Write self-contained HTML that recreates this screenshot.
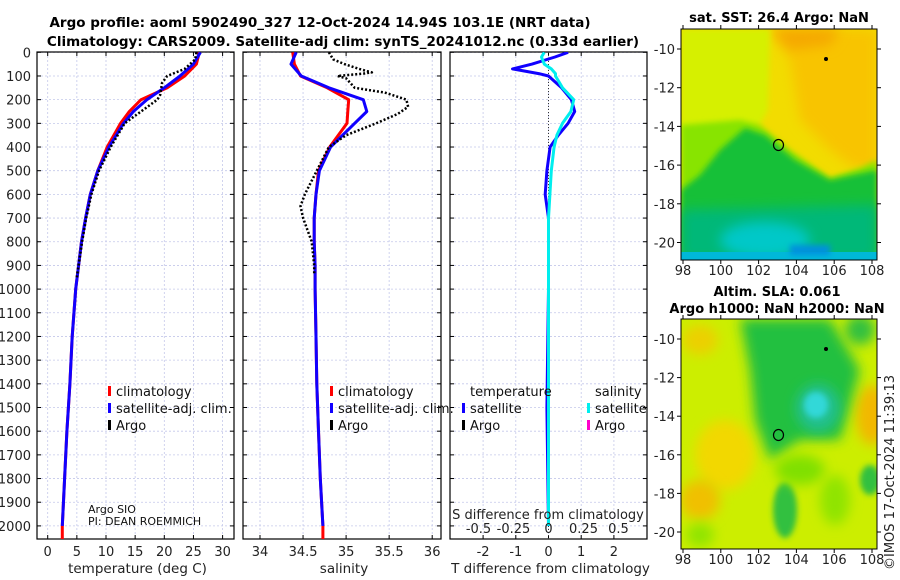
<!DOCTYPE html>
<html><head><meta charset="utf-8">
<style>
html,body{margin:0;padding:0;background:#fff;}
svg{display:block;font-family:"DejaVu Sans","Liberation Sans",sans-serif;}
</style></head>
<body>
<svg id="fig" width="900" height="580" viewBox="0 0 900 580" xmlns="http://www.w3.org/2000/svg">
<defs>
<filter id="blur6" x="-50%" y="-50%" width="200%" height="200%"><feGaussianBlur stdDeviation="6"/></filter>
<filter id="blur3" x="-50%" y="-50%" width="200%" height="200%"><feGaussianBlur stdDeviation="3"/></filter>
<clipPath id="clipSST"><rect x="681" y="29" width="196" height="231"/></clipPath>
<clipPath id="clipSLA"><rect x="681" y="319" width="196" height="230"/></clipPath>
<clipPath id="clipP1"><rect x="37" y="52" width="197" height="487"/></clipPath>
<clipPath id="clipP2"><rect x="243" y="52" width="198" height="487"/></clipPath>
<clipPath id="clipP3"><rect x="450" y="52" width="197" height="487"/></clipPath>
</defs>
<g font-weight="bold" font-size="13.5" text-anchor="middle" fill="#000">
<text x="320" y="27">Argo profile: aoml 5902490_327 12-Oct-2024 14.94S 103.1E (NRT data)</text>
<text x="343" y="46">Climatology: CARS2009. Satellite-adj clim: synTS_20241012.nc (0.33d earlier)</text>
</g>
<g id="panels"></g>

<!-- SST map -->
<g>
<g clip-path="url(#clipSST)">
<rect x="681" y="29" width="196" height="231" fill="#f2dc00"/>
<polygon points="770,29 877,29 877,175 850,165 830,150 800,120 790,60" fill="#f8c400" filter="url(#blur6)"/>
<polygon points="770,29 840,29 830,45 790,50" fill="#f5a800" filter="url(#blur6)"/>
<polygon points="681,29 770,29 768,110 760,125 681,150" fill="#d6f000" filter="url(#blur3)"/>
<polygon points="681,125 740,120 760,125 790,150 830,178 860,168 877,160 877,260 681,260" fill="#88e400" filter="url(#blur3)"/>
<polygon points="720,150 745,128 765,135 795,160 830,180 877,170 877,260 681,260 681,190 700,175" fill="#18c038" filter="url(#blur3)"/>
<polygon points="681,210 877,205 877,260 681,260" fill="#00b878" filter="url(#blur6)"/>
<ellipse cx="765" cy="240" rx="45" ry="18" fill="#00c8c8" filter="url(#blur6)"/>
<rect x="681" y="252" width="196" height="8" fill="#00b8d8"/>
<rect x="790" y="245" width="40" height="10" fill="#0090e0" filter="url(#blur3)"/>
</g>
<rect x="681" y="29" width="196" height="231" fill="none" stroke="#000" stroke-width="1"/>
<ellipse cx="778.5" cy="145" rx="5" ry="5.5" fill="none" stroke="#000" stroke-width="1.2"/>
<circle cx="826" cy="59" r="2" fill="#000"/>
<text x="779" y="22" text-anchor="middle" font-weight="bold" font-size="13">sat. SST: 26.4 Argo: NaN</text>
</g>

<!-- SLA map -->
<g>
<g clip-path="url(#clipSLA)">
<rect x="681" y="319" width="196" height="230" fill="#ccee00"/>
<ellipse cx="725" cy="455" rx="30" ry="35" fill="#f2d800" filter="url(#blur6)"/>
<ellipse cx="700" cy="500" rx="20" ry="20" fill="#f0c000" filter="url(#blur6)"/>
<ellipse cx="872" cy="415" rx="16" ry="30" fill="#f2b800" filter="url(#blur6)"/>
<ellipse cx="700" cy="340" rx="18" ry="15" fill="#ecd000" filter="url(#blur6)"/>
<polygon points="740,319 830,319 860,370 840,440 800,440 770,460 755,420 750,370" fill="#22c040" filter="url(#blur6)"/>
<ellipse cx="818" cy="408" rx="22" ry="24" fill="#20c090" filter="url(#blur6)"/>
<ellipse cx="816" cy="405" rx="12" ry="13" fill="#30d8d8" filter="url(#blur3)"/>
<ellipse cx="860" cy="330" rx="15" ry="15" fill="#30c040" filter="url(#blur6)"/>
<ellipse cx="785" cy="510" rx="12" ry="28" fill="#30c040" filter="url(#blur3)"/>
<ellipse cx="800" cy="470" rx="25" ry="15" fill="#80e000" filter="url(#blur6)"/>
<ellipse cx="870" cy="480" rx="10" ry="15" fill="#30c040" filter="url(#blur3)"/>
<ellipse cx="835" cy="500" rx="15" ry="25" fill="#90e400" filter="url(#blur6)"/>
<ellipse cx="700" cy="535" rx="14" ry="12" fill="#90e400" filter="url(#blur6)"/>
</g>
<rect x="681" y="319" width="196" height="230" fill="none" stroke="#000" stroke-width="1"/>
<ellipse cx="778.5" cy="435" rx="5" ry="5.5" fill="none" stroke="#000" stroke-width="1.2"/>
<circle cx="826" cy="349" r="2" fill="#000"/>
<text x="777" y="296" text-anchor="middle" font-weight="bold" font-size="13">Altim. SLA: 0.061</text>
<text x="777" y="313" text-anchor="middle" font-weight="bold" font-size="13">Argo h1000: NaN h2000: NaN</text>
</g>
<text transform="translate(894,570) rotate(-90)" font-size="13" fill="#222">©IMOS 17-Oct-2024 11:39:13</text>
<g id="mapaxes"></g>

<script>
// ---- data ----
const depthTicks = [0,100,200,300,400,500,600,700,800,900,1000,1100,1200,1300,1400,1500,1600,1700,1800,1900,2000];
const tempTicks = [0,5,10,15,20,25,30];
const salTicks = [34,34.5,35,35.5,36];
const salTickLabels = ["34","34.5","35","35.5","36"];
const tdiffTicks = [-2,-1,0,1,2];
const sdiffTicks = [-0.5,-0.25,0,0.25,0.5];
const sdiffTickLabels = ["-0.5","-0.25","0","0.25","0.5"];

const climDepth = [0,50,100,150,200,250,300,400,500,600,700,800,900,1000,1200,1400,1600,1800,2000,2060];
const climTemp  = [26,25.5,23.5,20.5,16,14,12.5,10.2,8.6,7.3,6.5,5.8,5.3,4.8,4.2,3.8,3.3,2.9,2.5,2.5];
const satTemp   = [26.2,25,22.7,20,17,14.7,13,10.5,8.6,7.3,6.5,5.8,5.3,4.8,4.2,3.8,3.3,2.9,2.5];
const climSal   = [34.38,34.4,34.47,34.78,35.03,35.02,35.01,34.81,34.68,34.65,34.63,34.63,34.64,34.64,34.65,34.66,34.68,34.7,34.73,34.73];
const satSal    = [34.42,34.36,34.48,34.8,35.2,35.24,35.1,34.82,34.69,34.65,34.63,34.63,34.64,34.64,34.65,34.66,34.68,34.7,34.73];

const argoDepth = [0,30,70,100,130,180,200,250,300,400,500,600,700,800,900,950];
const argoTemp  = [25.5,25.3,23.5,20.5,19.6,19.3,18.8,16,13.2,10.8,8.8,7.5,6.6,5.9,5.3,5.0];
const argoSalDepth = [0,30,50,70,85,90,100,110,150,170,200,230,260,300,350,400,500,600,650,700,800,900,940];
const argoSal   = [34.8,34.85,34.98,35.15,35.3,35.2,34.9,35.0,35.1,35.45,35.7,35.72,35.6,35.35,35.0,34.8,34.66,34.52,34.47,34.5,34.6,34.63,34.63];

const diffDepth = [0,20,50,70,90,100,150,200,250,300,350,400,500,600,700,1000,1500,2000];
const satTdiff  = [0.6,0.2,-0.5,-1.1,-0.3,0,0.4,0.7,0.8,0.6,0.3,0.05,-0.05,-0.1,0,0,-0.05,0];
const satSdiff  = [-0.03,-0.05,-0.03,0.02,0.05,0.05,0.1,0.18,0.16,0.1,0.06,0.04,0.02,0.01,0,0,0,0];

const lonTicks = [98,100,102,104,106,108];
const latTicks = [-10,-12,-14,-16,-18,-20];

// ---- scales ----
const yD = d => 52.3 + d*0.2368;
const xT = v => 47.7 + v*5.83;
const xS = v => 260 + (v-34)*86.1;
const xTd = v => 548.5 + v*32.7;
const xSd = v => 548.5 + v*140;
const NS = "http://www.w3.org/2000/svg";
const panels = document.getElementById('panels');
function mk(tag, attrs, par){const e=document.createElementNS(NS,tag);for(const k in attrs)e.setAttribute(k,attrs[k]);(par||panels).appendChild(e);return e;}
function line(xs, ys, attrs, name, par){
  const pts = xs.map((x,i)=>x.toFixed(1)+','+ys[i].toFixed(1)).join(' ');
  const e = mk('polyline', Object.assign({points:pts, fill:'none','stroke-linejoin':'round'}, attrs), par);
  
  
  return e;
}
function txt(x,y,s,attrs,par){const e=mk('text',Object.assign({x:x,y:y},attrs||{}),par);e.textContent=s;return e;}

const P = [
  {name:'temperature-panel', x0:37, x1:234, ticks:tempTicks, labels:tempTicks.map(String), sx:xT, xlabel:'temperature (deg C)'},
  {name:'salinity-panel', x0:243, x1:441, ticks:salTicks, labels:salTickLabels, sx:xS, xlabel:'salinity'},
  {name:'difference-panel', x0:450, x1:647, ticks:tdiffTicks, labels:tdiffTicks.map(String), sx:xTd, xlabel:'T difference from climatology'}
];
const TOPY=52, BOTY=539;
P.forEach((p,pi)=>{
  const g = mk('g',{});
  
  
  const grid = mk('g',{stroke:'#c4c8ea','stroke-width':0.8,'stroke-dasharray':'2,2'},g);
  
  
  depthTicks.forEach(d=>mk('line',{x1:p.x0,x2:p.x1,y1:yD(d),y2:yD(d)},grid));
  p.ticks.forEach(t=>mk('line',{x1:p.sx(t),x2:p.sx(t),y1:TOPY,y2:BOTY},grid));
  const tk = mk('g',{stroke:'#000','stroke-width':1},g);
  depthTicks.forEach(d=>{mk('line',{x1:p.x0,x2:p.x0+4,y1:yD(d),y2:yD(d)},tk);mk('line',{x1:p.x1-4,x2:p.x1,y1:yD(d),y2:yD(d)},tk);});
  p.ticks.forEach(t=>{mk('line',{x1:p.sx(t),x2:p.sx(t),y1:BOTY,y2:BOTY-4},tk);mk('line',{x1:p.sx(t),x2:p.sx(t),y1:TOPY,y2:TOPY+4},tk);});
  const xl = mk('g',{'font-size':13,'text-anchor':'middle',fill:'#222'},g);
  
  
  p.ticks.forEach((t,i)=>txt(p.sx(t),556,p.labels[i],{},xl));
  const xt = txt((p.x0+p.x1)/2+2,573,p.xlabel,{'font-size':13.5,'text-anchor':'middle',fill:'#222'},g);
  
  
  mk('rect',{x:p.x0,y:TOPY,width:p.x1-p.x0,height:BOTY-TOPY,fill:'none',stroke:'#000','stroke-width':1.2},g);
});
// y labels
const yl = mk('g',{'font-size':13,'text-anchor':'end',fill:'#222'});


depthTicks.forEach(d=>txt(31,yD(d)+5,String(d),{},yl));

// series - temperature
const g1 = mk('g',{'clip-path':'url(#clipP1)'});
line(climTemp.map(xT), climDepth.map(yD), {stroke:'#f00','stroke-width':3}, 'climatology-temp-line', g1);
line(satTemp.map(xT), climDepth.slice(0,satTemp.length).map(yD), {stroke:'#10f','stroke-width':3}, 'satellite-temp-line', g1);
line(argoTemp.map(xT), argoDepth.map(yD), {stroke:'#000','stroke-width':2.5,'stroke-dasharray':'2,2'}, 'argo-temp-line', g1);
// salinity
const g2 = mk('g',{'clip-path':'url(#clipP2)'});
line(climSal.map(xS), climDepth.map(yD), {stroke:'#f00','stroke-width':3}, 'climatology-sal-line', g2);
line(satSal.map(xS), climDepth.slice(0,satSal.length).map(yD), {stroke:'#10f','stroke-width':3}, 'satellite-sal-line', g2);
line(argoSal.map(xS), argoSalDepth.map(yD), {stroke:'#000','stroke-width':2.5,'stroke-dasharray':'2,2'}, 'argo-sal-line', g2);
// differences
const g3 = mk('g',{'clip-path':'url(#clipP3)'});
mk('line',{x1:xTd(0),x2:xTd(0),y1:TOPY,y2:BOTY,stroke:'#333','stroke-width':1,'stroke-dasharray':'1,2'},g3);
line(satTdiff.map(xTd), diffDepth.map(yD), {stroke:'#10f','stroke-width':3}, 'satellite-t-diff-line', g3);
line(satSdiff.map(xSd), diffDepth.map(yD), {stroke:'#0ee','stroke-width':3}, 'satellite-s-diff-line', g3);
// S-diff axis labels inside panel 3
const sdl = mk('g',{'font-size':13,'text-anchor':'middle',fill:'#222'});


txt(548,519,'S difference from climatology',{},sdl);
sdiffTicks.forEach((t,i)=>txt(xSd(t),533,sdiffTickLabels[i],{},sdl));

// legends
function legend(x,y,items,name){
  const g = mk('g',{'font-size':13,fill:'#111'});
  
  
  items.forEach((it,i)=>{
    if(it.c) mk('rect',{x:x,y:y+i*17-10,width:3,height:10,fill:it.c},g);
    txt(x+(it.c?8:0),y+i*17,it.t,{},g);
  });
}
legend(108,396,[{c:'#f00',t:'climatology'},{c:'#10f',t:'satellite-adj. clim.'},{c:'#000',t:'Argo'}],'temp-legend');
legend(330,396,[{c:'#f00',t:'climatology'},{c:'#10f',t:'satellite-adj. clim.'},{c:'#000',t:'Argo'}],'sal-legend');
legend(470,396,[{t:'temperature'}],'t-diff-legend-title');
legend(462,413,[{c:'#10f',t:'satellite'},{c:'#000',t:'Argo'}],'t-diff-legend');
legend(595,396,[{t:'salinity'}],'s-diff-legend-title');
legend(587,413,[{c:'#0ee',t:'satellite'},{c:'#f0c',t:'Argo'}],'s-diff-legend');
const pi1 = mk('g',{'font-size':11,fill:'#111'});


txt(88,513,'Argo SIO',{},pi1); txt(88,525,'PI: DEAN ROEMMICH',{},pi1);

// map axes
const ma = document.getElementById('mapaxes');
const lonX = v => 683 + (v-98)*18.9;
[[29,260,49,242.5],[319,549,339,532]].forEach((m,mi)=>{
  const latY = v => m[2] + (-10 - v)*((m[3]-m[2])/10);
  const g = mk('g',{'font-size':13,fill:'#222'},ma);
  
  
  lonTicks.forEach(l=>{mk('line',{x1:lonX(l),x2:lonX(l),y1:m[1],y2:m[1]+4,stroke:'#000'},g);mk('line',{x1:lonX(l),x2:lonX(l),y1:m[0],y2:m[0]-4,stroke:'#000'},g);txt(lonX(l),m[1]+15,String(l),{'text-anchor':'middle'},g);});
  latTicks.forEach(l=>{mk('line',{x1:681,x2:677,y1:latY(l),y2:latY(l),stroke:'#000'},g);mk('line',{x1:877,x2:881,y1:latY(l),y2:latY(l),stroke:'#000'},g);txt(675,latY(l)+5,String(l),{'text-anchor':'end'},g);});
});
</script>
</svg>
</body></html>
